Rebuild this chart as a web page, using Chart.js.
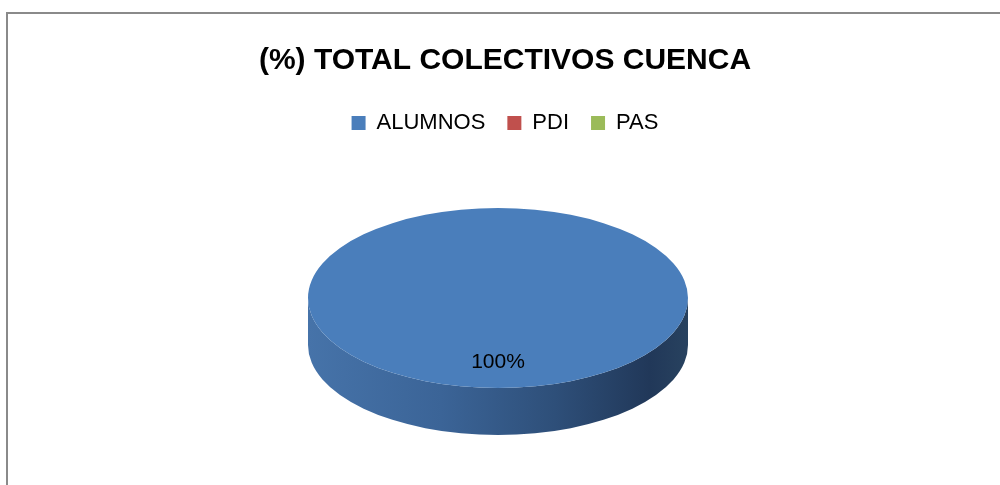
<!DOCTYPE html>
<html>
<head>
<meta charset="utf-8">
<script src="https://cdn.jsdelivr.net/npm/chart.js@4.4.1/dist/chart.umd.min.js"></script>
<style>
    html, body { margin: 0; padding: 0; background: #fff; overflow: hidden; }
    #wrap { position: relative; width: 1000px; height: 485px; }
    #frame {
        position: absolute; left: 6px; top: 12px; width: 1000px; height: 485px;
        border-left: 2px solid #8a8a8a; border-top: 2px solid #8a8a8a;
    }
    #chart { position: absolute; left: 0; top: 0; }
</style>
</head>
<body>
<div id="wrap">
    <div id="frame"></div>
    <canvas id="chart" width="1000" height="485"></canvas>
</div>
<script>
// Chart data
const chartTitle = '(%) TOTAL COLECTIVOS CUENCA';
const categories = ['ALUMNOS', 'PDI', 'PAS'];
const percentValues = [100, 0, 0];
const sliceColors = ['#4a7ebb', '#c0504d', '#9bbb59'];

const FONT = "'Liberation Sans', Arial, sans-serif";

// 3D look: squash the pie into an ellipse and add a shaded side wall
const tilt = 90 / 190;     // vertical squash of the top face
const depth = 47;          // thickness of the side wall
const center = { x: 498, y: 298 };

const pie3d = {
    id: 'pie3d',
    beforeDatasetsDraw(chart) {
        const ctx = chart.ctx;
        const meta = chart.getDatasetMeta(0);
        meta.data.forEach((arc) => {
            const p = arc.getProps(['startAngle', 'endAngle', 'outerRadius', 'circumference']);
            if (!p.circumference) return;
            // visible front part of the wall: angles between 0 and PI
            const a0 = Math.max(p.startAngle, 0);
            const a1 = Math.min(p.endAngle, Math.PI);
            if (a1 <= a0) return;
            const rx = p.outerRadius, ry = p.outerRadius * tilt;
            const grad = ctx.createLinearGradient(center.x - rx, 0, center.x + rx, 0);
            grad.addColorStop(0, '#4673a9');
            grad.addColorStop(0.35, '#3b6497');
            grad.addColorStop(0.65, '#2e4f79');
            grad.addColorStop(0.9, '#213859');
            grad.addColorStop(1, '#28425f');
            ctx.save();
            ctx.beginPath();
            ctx.ellipse(center.x, center.y + depth, rx, ry, 0, a0, a1, false);
            ctx.ellipse(center.x, center.y, rx, ry, 0, a1, a0, true);
            ctx.closePath();
            ctx.fillStyle = grad;
            ctx.fill();
            ctx.restore();
        });
        // squash the top face
        const first = meta.data[0];
        ctx.save();
        ctx.translate(center.x, center.y);
        ctx.scale(1, tilt);
        ctx.translate(-first.x, -first.y);
    },
    afterDatasetsDraw(chart) {
        const ctx = chart.ctx;
        ctx.restore();
        const meta = chart.getDatasetMeta(0);
        const values = chart.data.datasets[0].data;
        const total = values.reduce((a, b) => a + b, 0);
        meta.data.forEach((arc, i) => {
            if (!values[i]) return;
            const c = arc.getCenterPoint();
            const x = center.x + (c.x - arc.x);
            const y = center.y + (c.y - arc.y) * tilt + depth * 0.4;
            ctx.save();
            ctx.font = '21px ' + FONT;
            ctx.fillStyle = '#000';
            ctx.textAlign = 'center';
            ctx.textBaseline = 'middle';
            ctx.fillText(Math.round(values[i] / total * 100) + '%', x, y);
            ctx.restore();
        });
    }
};

const ctx = document.getElementById('chart').getContext('2d');
new Chart(ctx, {
    type: 'pie',
    data: {
        labels: categories,
        datasets: [{
            data: percentValues,
            backgroundColor: sliceColors,
            borderWidth: 0,
            radius: 190
        }]
    },
    options: {
        responsive: false,
        animation: false,
        events: [],
        layout: { padding: { top: 0, bottom: 0, left: 10 } },
        plugins: {
            title: {
                display: true,
                text: chartTitle,
                color: '#000',
                font: { family: FONT, size: 30, weight: 'bold', lineHeight: 1.2 },
                padding: { top: 43, bottom: 11 }
            },
            legend: {
                position: 'top',
                labels: {
                    color: '#000',
                    font: { family: FONT, size: 22 },
                    boxWidth: 14,
                    boxHeight: 14,
                    padding: 22
                }
            },
            tooltip: { enabled: false }
        }
    },
    plugins: [pie3d]
});
</script>
</body>
</html>
